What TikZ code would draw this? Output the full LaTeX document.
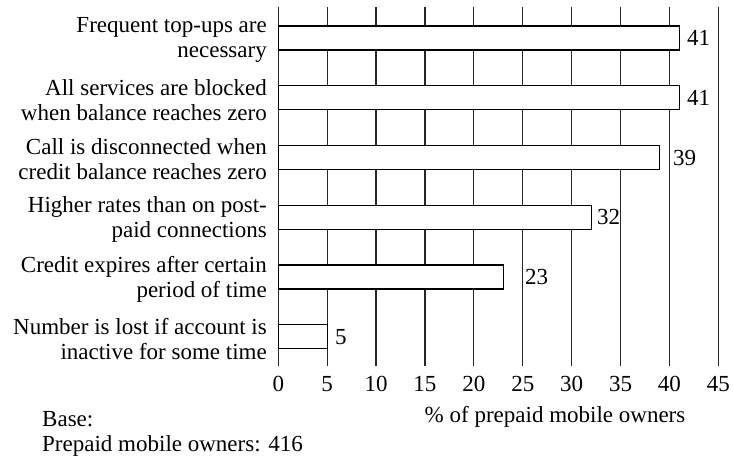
\documentclass[tikz,border=0pt]{standalone}
\usepackage{fontspec}
\setmainfont{Liberation Serif}
\begin{document}
\begin{tikzpicture}[x=1pt,y=-1pt,
  grid/.style={line width=1.2pt,draw=black!85},
  bar/.style={draw=black,line width=1.2pt,fill=white},
  lbl/.style={font=\fontsize{23}{25}\selectfont,align=right,anchor=east,inner sep=0pt},
  val/.style={font=\fontsize{23}{25}\selectfont,anchor=west,inner sep=0pt},
  tick/.style={font=\fontsize{23}{25}\selectfont,anchor=center,inner sep=0pt},
  txt/.style={font=\fontsize{23}{25}\selectfont,inner sep=0pt}]
\useasboundingbox (0,0) rectangle (733,457);
% scale: value v sits at 278.3 + 9.778 v
\foreach \v in {0,5,...,45}{
  \coordinate (gt\v) at ({278.3+9.778*\v},7);
  \coordinate (gb\v) at ({278.3+9.778*\v},366);
  \draw[grid] (gt\v) -- (gb\v);
  \node[tick] (t\v) at ({278.3+9.778*\v},384) {\v};
}
% bars
\foreach \i/\v/\lx/\a/\b in {
  0/41/687/{Frequent top-ups are}/{necessary},
  1/41/687/{All services are blocked}/{when balance reaches zero},
  2/39/673/{Call is disconnected when}/{credit balance reaches zero},
  3/32/597/{Higher rates than on post-}/{paid connections},
  4/23/525/{Credit expires after certain}/{period of time},
  5/5/335/{Number is lost if account is}/{inactive for some time}}{
  \pgfmathsetmacro{\top}{26+59.75*\i}
  \draw[bar] (278.3,\top) rectangle ({278.3+9.778*\v},\top+24);
  \node[val] (v\i) at (\lx,\top+12) {\v};
  \node[lbl] (c\i) at (267,\top+14) {\a\\\b};
}
\node[txt] (title) at (555,417) {\% of prepaid mobile owners};
\node[txt,anchor=base west] (base) at (42,426.5) {Base:};
\node[txt,anchor=base west] (basen) at (42,451) {Prepaid mobile owners: 416};
\end{tikzpicture}
\end{document}
